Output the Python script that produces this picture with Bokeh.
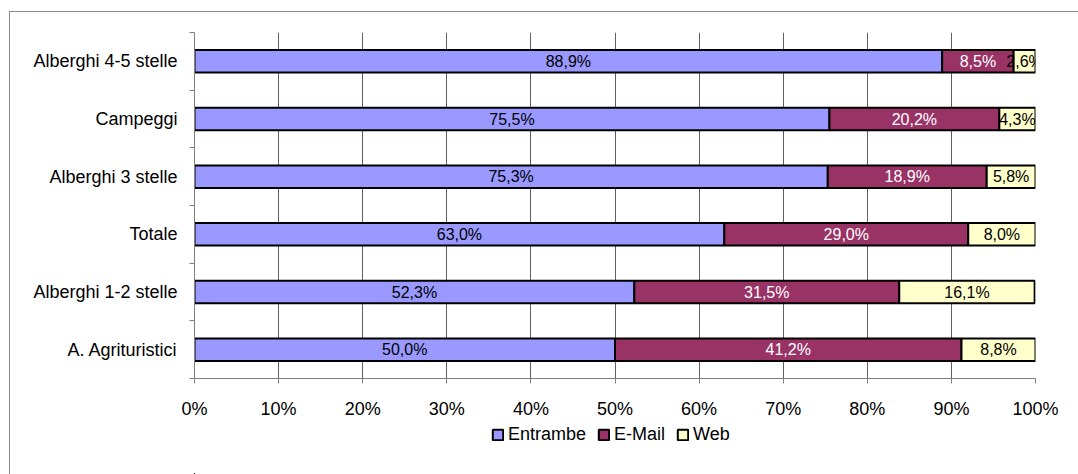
from bokeh.plotting import figure
from bokeh.layouts import column
from bokeh.models import ColumnDataSource, FixedTicker, Legend, LegendItem, Range1d
from bokeh.core.properties import value
from bokeh.embed import file_html
from bokeh.resources import INLINE

categories = ["A. Agrituristici", "Alberghi 1-2 stelle", "Totale",
              "Alberghi 3 stelle", "Campeggi", "Alberghi 4-5 stelle"]
entrambe = [50.0, 52.3, 63.0, 75.3, 75.5, 88.9]
email = [41.2, 31.5, 29.0, 18.9, 20.2, 8.5]
web = [8.8, 16.1, 8.0, 5.8, 4.3, 2.6]
series_names = ["Entrambe", "E-Mail", "Web"]
colors = ["#9999FF", "#993366", "#FFFFCC"]
label_colors = ["#000000", "#FFFFFF", "#000000"]
x_ticks = [0, 10, 20, 30, 40, 50, 60, 70, 80, 90, 100]

FONT = "Liberation Sans"

ypos = [i + 0.5 for i in range(len(categories))]

p = figure(width=1068, height=409, output_backend="svg", toolbar_location=None,
           x_range=Range1d(0, 100), y_range=Range1d(0, len(categories)),
           min_border_left=184, min_border_right=43, min_border_top=20,
           min_border_bottom=42)
p.outline_line_color = None
p.background_fill_color = "white"

# legend strip below the chart: its ranges lie far from the data, so only the legend shows
lp = figure(width=1068, height=53, output_backend="svg", toolbar_location=None,
            x_range=Range1d(1000, 1001), y_range=Range1d(1000, 1001),
            x_axis_location=None, y_axis_location=None,
            min_border_left=0, min_border_right=0, min_border_top=0, min_border_bottom=0)
lp.outline_line_color = None
lp.xgrid.visible = False
lp.ygrid.visible = False

series = [entrambe, email, web]
legend_renderers = []
lefts = [0.0] * len(categories)
for s, vals in enumerate(series):
    rights = [l + v for l, v in zip(lefts, vals)]
    src = ColumnDataSource(dict(
        y=ypos, left=lefts, right=rights,
        mid=[(l + r) / 2 for l, r in zip(lefts, rights)],
        label=[("%.1f%%" % v).replace(".", ",") for v in vals]))
    p.hbar(y="y", left="left", right="right", height=0.39, source=src,
           fill_color=colors[s], line_color="black", line_width=2)
    p.text(x="mid", y="y", text="label", source=src, text_align="center",
           text_baseline="middle", text_color=label_colors[s],
           text_font=value(FONT), text_font_size="16px")
    lr = lp.hbar(y="y", left="left", right="right", height=0.39, source=src,
                 fill_color=colors[s], line_color="black", line_width=2)
    legend_renderers.append(lr)
    lefts = rights

# x axis
xa = p.xaxis[0]
xa.ticker = FixedTicker(ticks=x_ticks)
xa.major_label_overrides = {t: f"{t}%" for t in x_ticks}
xa.major_tick_out = 5
xa.major_tick_in = 0
xa.minor_tick_line_color = None
xa.axis_line_color = "#808080"
xa.major_tick_line_color = "#808080"
xa.major_label_text_font = FONT
xa.major_label_text_font_size = "18px"
xa.major_label_text_color = "black"
xa.major_label_standoff = 15

# y axis: labels at centres, ticks at boundaries
ya = p.yaxis[0]
ya.ticker = FixedTicker(ticks=ypos, minor_ticks=list(range(len(categories) + 1)))
ya.major_label_overrides = {y: c for y, c in zip(ypos, categories)}
ya.major_tick_line_color = None
ya.major_tick_out = 0
ya.major_tick_in = 0
ya.minor_tick_out = 5
ya.minor_tick_in = 0
ya.minor_tick_line_color = "#808080"
ya.axis_line_color = "#808080"
ya.major_label_text_font = FONT
ya.major_label_text_font_size = "18px"
ya.major_label_text_color = "black"
ya.major_label_standoff = 12

p.xgrid.grid_line_color = "#606060"
p.xgrid.ticker = FixedTicker(ticks=x_ticks)
p.ygrid.grid_line_color = None

legend = Legend(items=[LegendItem(label=n, renderers=[r]) for n, r in zip(series_names, legend_renderers)],
                orientation="horizontal", location=(297, 29),
                label_text_font=FONT, label_text_font_size="18px", label_text_color="black",
                glyph_width=13, glyph_height=13, label_standoff=4, spacing=11,
                padding=0, margin=0, border_line_color=None, background_fill_alpha=0)
lp.add_layout(legend, "center")

layout = column(p, lp, spacing=0,
                styles={"margin-left": "9px", "margin-top": "11px",
                        "border-left": "1px solid #888888",
                        "border-top": "1px solid #888888"})

open("out.html", "w").write(file_html(layout, INLINE))
